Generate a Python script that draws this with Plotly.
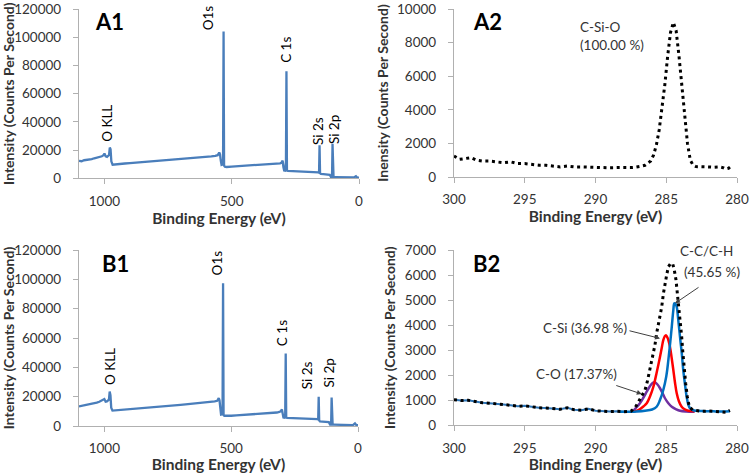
import plotly.graph_objects as go

# ---------------- Survey spectra (A1, B1) ----------------
survey_be = [1100, 1090, 1080, 1070, 1060, 1050, 1040, 1030, 1020, 1010, 1004, 1000, 995, 990,
             982, 979, 976, 973, 968, 960, 950, 935, 920, 900, 880, 860, 840, 820, 800, 780,
             760, 740, 720, 700, 680, 660, 640, 620, 600, 580, 565, 555, 549, 546, 543, 540,
             536, 534, 532, 530, 527, 520, 500, 480, 460, 440, 420, 400, 380, 360, 340, 320,
             310, 305, 300, 297, 294, 290, 287, 285, 283, 280, 270, 250, 230, 210, 190, 175,
             165, 160, 157, 155, 153, 150, 140, 130, 120, 115, 110, 106, 104, 102, 100, 95,
             80, 60, 40, 20, 12, 10, 7, 0]

a1_counts = [12300, 12100, 12800, 13000, 13400, 13600, 14200, 14500, 15000, 15600, 16300, 17600, 15500, 15200,
             16500, 21800, 20500, 12000, 9600, 9800, 10100, 10000, 10500, 10800, 11100, 11000, 11600, 11800, 12000, 12300,
             12500, 12800, 13100, 13300, 13700, 14000, 14400, 14600, 15000, 15500, 15900, 16400, 18300, 17000, 12500, 9500,
             9800, 14000, 104000, 9000, 8200, 8000, 8300, 8500, 8700, 8800, 9100, 9300, 9500, 9800, 10000, 10300,
             10600, 11000, 12600, 8000, 5500, 5400, 12000, 75900, 5600, 5300, 5200, 5000, 4900, 4800, 4700, 4500,
             4400, 4200, 3800, 23500, 3600, 3200, 3000, 2900, 2800, 2500, 900, 900, 24400, 1200, 800, 800,
             700, 650, 600, 550, 1500, 1200, 600, 400]

b1_counts = [13300, 13600, 14000, 14200, 14700, 15000, 15400, 15900, 16500, 17200, 17800, 18400, 16600, 16800,
             18000, 23500, 21000, 12500, 10500, 10600, 10900, 11000, 11200, 11500, 11800, 12000, 12300, 12500, 12800, 13200,
             13400, 13800, 14100, 14400, 14700, 15000, 15400, 15600, 16000, 16500, 16800, 17200, 19000, 17500, 12000, 7800,
             8000, 12000, 97300, 7500, 7000, 6900, 7000, 7200, 7400, 7600, 7800, 8000, 8300, 8500, 8800, 9200,
             9600, 10000, 11300, 7000, 5800, 5700, 8000, 49500, 5900, 5600, 5500, 5400, 5300, 5200, 5100, 5000,
             4900, 4700, 4300, 20000, 3800, 3200, 3000, 2900, 2800, 2600, 900, 900, 19400, 1300, 900, 900,
             800, 700, 650, 600, 1800, 1300, 700, 500]

# ---------------- A2: C 1s high resolution ----------------
a2_be = [300.0, 299.6, 299.2, 298.8, 298.4, 298.0, 297.5, 297.0, 296.5, 296.0, 295.5, 295.0, 294.5, 294.0,
         293.5, 293.0, 292.5, 292.0, 291.5, 291.0, 290.5, 290.0, 289.5, 289.0, 288.5, 288.0, 287.5, 287.2,
         287.0, 286.8, 286.5, 286.3, 286.1, 285.9, 285.7, 285.5, 285.3, 285.1, 284.9, 284.7, 284.5, 284.3,
         284.1, 283.9, 283.7, 283.5, 283.3, 283.1, 282.9, 282.6, 282.3, 282.0, 281.6, 281.2, 281.0, 280.8,
         280.6, 280.4]
a2_counts = [1250, 1050, 1100, 1150, 1000, 950, 950, 900, 850, 900, 800, 800, 750, 700,
             700, 650, 600, 650, 600, 600, 580, 550, 560, 550, 560, 540, 560, 580,
             600, 640, 700, 800, 950, 1300, 1900, 2800, 4000, 5500, 7200, 8600, 9200, 8700,
             7200, 5300, 3400, 2000, 1000, 700, 620, 600, 600, 600, 580, 600, 560, 480,
             520, 650]

# ---------------- B2: C 1s high resolution with components ----------------
b2_be = [300.0, 299.5, 299.0, 298.5, 298.0, 297.5, 297.0, 296.5, 296.0, 295.5, 295.0, 294.5, 294.0, 293.5,
         293.0, 292.5, 292.0, 291.5, 291.0, 290.5, 290.0, 289.5, 289.0, 288.5, 288.0, 287.5, 287.2, 287.0,
         286.73, 286.5, 286.34, 286.15, 285.96, 285.8, 285.68, 285.49, 285.32, 285.2, 285.09, 284.97, 284.85,
         284.69, 284.55, 284.43, 284.31, 284.21, 284.1, 284.03, 283.91, 283.84, 283.75, 283.63, 283.51, 283.37,
         283.13, 282.8, 282.5, 282.0, 281.5, 281.0, 280.8, 280.5]
b2_counts = [1020, 990, 1000, 940, 900, 880, 870, 830, 800, 760, 780, 730, 700, 690,
             660, 640, 700, 620, 600, 660, 580, 560, 550, 560, 540, 560, 700, 900,
             1210, 1410, 1740, 2210, 2740, 3200, 3670, 4200, 4730, 5260, 5660, 6000, 6330,
             6460, 6460, 6200, 5800, 5270, 4730, 4200, 3540, 3000, 2340, 1680, 1140, 740,
             610, 580, 560, 570, 550, 540, 520, 600]

cc_be = [288.3, 287.5, 287.09, 286.5, 286.0, 285.68, 285.45, 285.21, 285.0, 284.85, 284.72, 284.61, 284.5,
         284.43, 284.35, 284.26, 284.15, 284.03, 283.9, 283.8, 283.68, 283.56, 283.45, 283.32, 283.1, 282.85,
         282.5, 282.0, 281.5, 281.0, 280.5]
cc_counts = [540, 540, 550, 580, 630, 740, 1000, 1410, 1950, 2610, 3300, 3930, 4600,
             4870, 4850, 4730, 4200, 3540, 2850, 2210, 1650, 1140, 850, 680, 600, 580,
             570, 560, 555, 550, 560]

csi_be = [287.5, 286.97, 286.6, 286.38, 286.15, 285.91, 285.68, 285.44, 285.3, 285.21, 285.1, 285.02, 284.9,
          284.74, 284.62, 284.5, 284.38, 284.26, 284.1, 283.91, 283.7, 283.44, 283.0]
csi_counts = [540, 610, 760, 880, 1150, 1540, 2100, 2740, 3150, 3400, 3560, 3600, 3480,
              3140, 2700, 2210, 1700, 1280, 950, 740, 640, 580, 560]

co_be = [287.33, 287.1, 286.86, 286.6, 286.38, 286.2, 286.03, 285.9, 285.8, 285.65, 285.44, 285.25, 285.09,
         284.85, 284.61, 284.3, 284.03, 283.6, 283.0]
co_counts = [580, 720, 880, 1120, 1340, 1520, 1650, 1710, 1720, 1650, 1480, 1270, 1080,
             880, 740, 640, 580, 550, 540]

# Background data line under the dots on the flat high-BE side
bg_cut = 288.0
bg_be = [e for e in b2_be if e >= bg_cut]
bg_counts = [c for e, c in zip(b2_be, b2_counts) if e >= bg_cut]

# ---------------- Labels ----------------
survey_peaks = ["O KLL", "O1s", "C 1s", "Si 2s", "Si 2p"]
a1_label_pos = [(988, 39000), (590, 114000), (287, 91000), (161, 33500), (98, 34200)]
b1_label_pos = [(980, 40500), (555, 111000), (299, 63400), (200, 34800), (114, 35800)]

# ---------------- Style ----------------
FONT = "Lato"
TXT = "#333333"
AX = "#B0B0B0"
SURVEY_BLUE = "#4A7EBB"
W, H = 750, 473

fig = go.Figure()

fig.add_trace(go.Scatter(x=survey_be, y=a1_counts, mode="lines",
                         line=dict(color=SURVEY_BLUE, width=2.3), xaxis="x", yaxis="y"))
fig.add_trace(go.Scatter(x=a2_be, y=a2_counts, mode="lines",
                         line=dict(color="black", width=3, dash="3px,3.6px"), xaxis="x2", yaxis="y2"))
fig.add_trace(go.Scatter(x=survey_be, y=b1_counts, mode="lines",
                         line=dict(color=SURVEY_BLUE, width=2.3), xaxis="x3", yaxis="y3"))
fig.add_trace(go.Scatter(x=bg_be, y=bg_counts, mode="lines",
                         line=dict(color="#2E75B6", width=2), xaxis="x4", yaxis="y4"))
fig.add_trace(go.Scatter(x=co_be, y=co_counts, mode="lines", line_shape="spline",
                         line=dict(color="#7030A0", width=2.5), xaxis="x4", yaxis="y4"))
fig.add_trace(go.Scatter(x=csi_be, y=csi_counts, mode="lines", line_shape="spline",
                         line=dict(color="#FF0000", width=2.5), xaxis="x4", yaxis="y4"))
fig.add_trace(go.Scatter(x=cc_be, y=cc_counts, mode="lines", line_shape="spline",
                         line=dict(color="#0070C0", width=2.5), xaxis="x4", yaxis="y4"))
fig.add_trace(go.Scatter(x=b2_be, y=b2_counts, mode="lines",
                         line=dict(color="black", width=3, dash="3px,3.6px"), xaxis="x4", yaxis="y4"))


def xax(domain, rng, dtick, anchor, standoff):
    return dict(domain=domain, range=rng, dtick=dtick, tick0=0, anchor=anchor,
                showline=True, linecolor=AX, linewidth=1.3, ticks="outside", ticklen=5,
                tickcolor=AX, tickwidth=1.3, showgrid=False, zeroline=False, tickformat="d",
                tickfont=dict(family=FONT, size=13.5, color=TXT), ticklabelstandoff=5,
                ticklabeloverflow="allow",
                title=dict(text="<b>Binding Energy (eV)</b>", standoff=standoff,
                           font=dict(family=FONT, size=15.5, color=TXT)),
                automargin=False, fixedrange=True)


def yax(domain, rng, dtick, anchor, title):
    return dict(domain=domain, range=rng, dtick=dtick, tick0=0, anchor=anchor,
                showline=True, linecolor=AX, linewidth=1.3, ticks="outside", ticklen=5,
                tickcolor=AX, tickwidth=1.3, showgrid=False, zeroline=False, tickformat="d",
                tickfont=dict(family=FONT, size=13.5, color=TXT), ticklabelstandoff=9,
                ticklabeloverflow="allow",
                title=dict(text="<b>" + title + "</b>", standoff=5,
                           font=dict(family=FONT, size=14, color=TXT)),
                automargin=False, fixedrange=True)


def py(top_px, bot_px):
    return [(H - bot_px) / H, (H - top_px) / H]


fig.update_layout(
    width=W, height=H, template="none",
    margin=dict(l=0, r=0, t=0, b=0),
    paper_bgcolor="white", plot_bgcolor="white", showlegend=False,
    xaxis=xax([79 / W, 359 / W], [1100, 0], 500, "y", 0),
    yaxis=yax(py(9, 178.3), [0, 120000], 20000, "x", "Intensity (Counts Per Second)"),
    xaxis2=xax([454 / W, 737 / W], [300, 280], 5, "y2", 0),
    yaxis2=yax(py(9, 177), [0, 10000], 2000, "x2", "Inensity (Counts Per Second)"),
    xaxis3=xax([79 / W, 358 / W], [1100, 0], 500, "y3", 5),
    yaxis3=yax(py(250, 426), [0, 120000], 20000, "x3", "Intensity (Counts Per Second)"),
    xaxis4=xax([454 / W, 737 / W], [300, 280], 5, "y4", 5),
    yaxis4=yax(py(250, 425.3), [0, 7000], 1000, "x4", "Intensity (Counts Per Second)"),
)

ann = []
# Panel letters
for txt, x, y, xr, yr in [("A1", 980, 111000, "x", "y"), ("A2", 297.6, 9250, "x2", "y2"),
                          ("B1", 957, 110500, "x3", "y3"), ("B2", 297.67, 6480, "x4", "y4")]:
    ann.append(dict(text="<b>" + txt + "</b>", x=x, y=y, xref=xr, yref=yr, showarrow=False,
                    font=dict(family=FONT, size=22, color="black")))
# Survey peak labels
for lbl, (x, y) in zip(survey_peaks, a1_label_pos):
    ann.append(dict(text=lbl, x=x, y=y, xref="x", yref="y", showarrow=False, textangle=-90,
                    font=dict(family=FONT, size=13.5, color="black")))
for lbl, (x, y) in zip(survey_peaks, b1_label_pos):
    ann.append(dict(text=lbl, x=x, y=y, xref="x3", yref="y3", showarrow=False, textangle=-90,
                    font=dict(family=FONT, size=13.5, color="black")))
# A2 label
ann.append(dict(text="C-Si-O", x=291.24, y=8900, xref="x2", yref="y2", showarrow=False,
                xanchor="left", font=dict(family=FONT, size=13.5, color=TXT)))
ann.append(dict(text="(100.00 %)", x=291.24, y=7830, xref="x2", yref="y2", showarrow=False,
                xanchor="left", font=dict(family=FONT, size=13.5, color=TXT)))
# B2 labels
ann.append(dict(text="C-C/C-H", x=282.19, y=6950, xref="x4", yref="y4", showarrow=False,
                font=dict(family=FONT, size=13.5, color=TXT)))
ann.append(dict(text="(45.65 %)", x=281.77, y=6120, xref="x4", yref="y4", showarrow=False,
                font=dict(family=FONT, size=13.5, color=TXT)))
ann.append(dict(text="C-Si (36.98 %)", x=290.74, y=3890, xref="x4", yref="y4", showarrow=False,
                font=dict(family=FONT, size=13.5, color=TXT)))
ann.append(dict(text="C-O (17.37%)", x=291.31, y=2050, xref="x4", yref="y4", showarrow=False,
                font=dict(family=FONT, size=13.5, color=TXT)))
# Arrows
for hx, hy, ax, ay in [(284.38, 4870, 25, -17), (285.44, 3470, -32, -8), (286.73, 1250, -27, -9)]:
    ann.append(dict(text="", x=hx, y=hy, xref="x4", yref="y4", showarrow=True, ax=ax, ay=ay,
                    arrowhead=2, arrowsize=1, arrowwidth=1, arrowcolor="#404040", standoff=0))

fig.update_layout(annotations=ann)
fig.write_html("out.html", config={"displayModeBar": False},
               post_script="document.body.style.margin='0';document.body.style.overflow='hidden';")
